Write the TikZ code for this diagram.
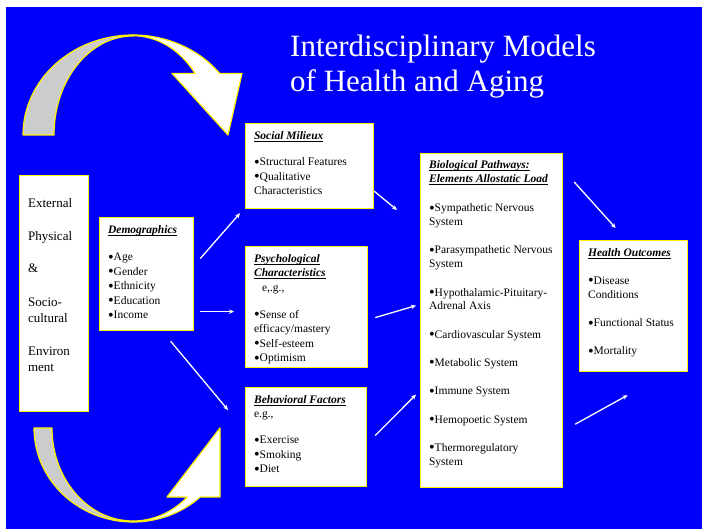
\documentclass[tikz,border=0pt]{standalone}
\usepackage{fontspec}
\setmainfont{Liberation Serif}
\usepackage{graphicx}
\usepackage{tikz}
\usetikzlibrary{arrows.meta}

\definecolor{slideblue}{RGB}{0,0,250}
\definecolor{backside}{RGB}{204,204,204}

% underlined bold italic heading
\newcommand{\hd}[1]{\leavevmode\setbox0\hbox{\bfseries\itshape #1}\rlap{\rule[-2.2pt]{\wd0}{0.9pt}}\box0}
% list bullet, a little larger than the font's own
\newcommand{\bul}{\raisebox{-1.3pt}{\scalebox{1.4}{•}}}
% text block of a panel, width and height given
\newcommand{\paneltext}[3]{\parbox[t][#2][t]{#1}{\raggedright #3}}

\tikzset{
  panel/.style={draw=yellow, line width=1.2pt, fill=white, anchor=north west,
    inner xsep=8.5pt, inner ysep=5.5pt, font=\fontsize{11.5}{14.5}\selectfont},
  flow/.style={draw=white, line width=1.3pt, -{Stealth[length=5pt,width=4.5pt]}},
  band/.style={draw=yellow, line width=1.2pt, line join=round},
}

\begin{document}
\begin{tikzpicture}[x=1pt, y=-1pt]
\fill[white] (0,0) rectangle (702,529);
\fill[slideblue] (6,7) rectangle (702,529);

% title
\node[anchor=base west, inner sep=0pt, text=white] (title) at (290,57)
  {\parbox[t]{360pt}{\fontsize{31}{35}\selectfont Interdisciplinary Models\\of Health and Aging}};

% curved arrow, top
\draw[band, fill=backside] (23,135) arc[start angle=180, end angle=90, x radius=110pt, y radius=100pt]
  -- ++(0,1) arc[start angle=90, end angle=180, x radius=79pt, y radius=99pt] -- cycle;
\draw[band, fill=white] (133,35) arc[start angle=90, end angle=38, x radius=110pt, y radius=100pt]
  -- (242,73.4) -- (228,135) -- (172,73.4) -- (195,73.4)
  arc[start angle=38.3, end angle=90, x radius=79pt, y radius=99pt] -- cycle;

% curved arrow, bottom
\draw[band, fill=backside] (34,428) arc[start angle=180, end angle=270, x radius=99pt, y radius=94pt]
  -- ++(0,-1) arc[start angle=270, end angle=180, x radius=81pt, y radius=93pt] -- cycle;
\draw[band, fill=white] (133,522) arc[start angle=270, end angle=312.8, x radius=99pt, y radius=94pt]
  -- (220,497) -- (220,428) -- (167,497) -- (187.3,497)
  arc[start angle=312.1, end angle=270, x radius=81pt, y radius=93pt] -- cycle;

% panels
\node[panel, font=\fontsize{13}{16.5}\selectfont] (env) at (19,175) {\paneltext{52pt}{225pt}{%
  \vspace*{15pt}\strut External\\[16pt] Physical\\[16pt] \&\\[17pt] Socio-\\ cultural\\[16pt] Environ\\ ment}};

\node[panel] (demo) at (99,217) {\paneltext{77pt}{102pt}{%
  \strut\hd{Demographics}\\[13pt]
  \bul Age\\ \bul Gender\\ \bul Ethnicity\\ \bul Education\\ \bul Income}};

\node[panel] (social) at (245,123) {\paneltext{111pt}{74pt}{%
  \strut\hd{Social Milieux}\\[12pt]
  \bul Structural Features\\ \bul Qualitative\\ Characteristics}};

\node[panel] (psych) at (245,246) {\paneltext{105pt}{110pt}{%
  \strut\hd{Psychological}\\ \hd{Characteristics}\\ \hspace*{8pt}e,.g.,\\[12.5pt]
  \bul Sense of\\ efficacy/mastery\\ \bul Self-esteem\\ \bul Optimism}};

\node[panel] (behav) at (245,387) {\paneltext{104pt}{88pt}{%
  \strut\hd{Behavioral Factors}\\ e.g.,\\[11.5pt]
  \bul Exercise\\ \bul Smoking\\ \bul Diet}};

\node[panel, font=\fontsize{11.5}{13.8}\selectfont] (bio) at (420,153) {\paneltext{125pt}{323pt}{%
  \strut\hd{Biological Pathways:}\\ \hd{Elements Allostatic Load}\\[15.5pt]
  \bul Sympathetic Nervous\\ System\\[14.5pt]
  \bul Parasympathetic Nervous\\ System\\[14.5pt]
  \bul Hypothalamic-Pituitary-\\ Adrenal Axis\\[14.5pt]
  \bul Cardiovascular System\\[14.5pt]
  \bul Metabolic System\\[14.5pt]
  \bul Immune System\\[14.5pt]
  \bul Hemopoetic System\\[14.5pt]
  \bul Thermoregulatory\\ System}};

\node[panel] (health) at (579,240) {\paneltext{91pt}{120pt}{%
  \strut\hd{Health Outcomes}\\[13.5pt]
  \bul Disease\\ Conditions\\[13.5pt]
  \bul Functional Status\\[13.5pt]
  \bul Mortality}};

% connectors
\draw[flow] ([xshift=6pt, yshift=15.5pt] demo.east) -- ([xshift=-5pt, yshift=-4pt] social.south west);
\draw[flow] ([xshift=6pt, yshift=-37.5pt] demo.east) -- ([xshift=-11pt, yshift=-4.5pt] psych.west);
\draw[flow] ([xshift=24pt, yshift=-10pt] demo.south) -- ([xshift=-17pt, yshift=-23pt] behav.north west);
\draw[flow] ([yshift=18pt] social.south east) -- ([xshift=-23pt, yshift=-57pt] bio.north west);
\draw[flow] ([xshift=7pt, yshift=-10.5pt] psych.east) -- ([xshift=-4pt, yshift=15pt] bio.west);
\draw[flow] ([xshift=8pt, yshift=1.5pt] behav.east) -- ([xshift=-4pt, yshift=-74pt] bio.west);
\draw[flow] ([xshift=11pt, yshift=-29pt] bio.north east) -- ([xshift=-18pt, yshift=12pt] health.north);
\draw[flow] ([xshift=12pt, yshift=64pt] bio.south east) -- ([xshift=-6pt, yshift=-23pt] health.south);
\end{tikzpicture}
\end{document}
